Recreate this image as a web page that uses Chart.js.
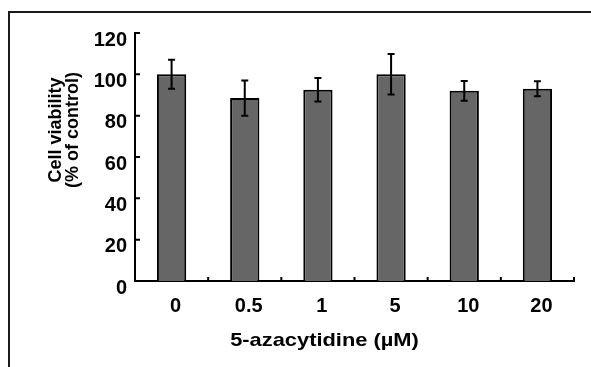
<!DOCTYPE html>
<html>
<head>
<meta charset="utf-8">
<script src="https://cdn.jsdelivr.net/npm/chart.js@4.4.1/dist/chart.umd.min.js"></script>
<style>
  html, body { margin: 0; padding: 0; background: #fff; }
  #wrap { position: relative; width: 591px; height: 367px; overflow: hidden; }
  #frame { position: absolute; left: 8px; top: 11px; width: 600px; height: 400px;
           border-top: 2px solid #1a1a1a; border-left: 2px solid #1a1a1a; }
  canvas { position: absolute; left: 0; top: 0; }
</style>
</head>
<body>
<div id="wrap">
  <div id="frame"></div>
  <canvas id="chartViabilidad" width="591" height="367"></canvas>
</div>
<script>
const doses = ['0', '0.5', '1', '5', '10', '20'];
const viability = [100, 88.5, 92.5, 100, 92, 93];
const errors = [7, 8.5, 5.7, 9.8, 4.8, 3.6];
const yTicks = [0, 20, 40, 60, 80, 100, 120];

const xTitle = '5-azacytidine (\u00b5M)';
const yTitle = ['Cell viability', '(% of control)'];

// error bars, inward ticks and axis titles
const extras = {
    id: 'extras',
    afterDatasetsDraw(chart) {
        const ctx = chart.ctx;
        const y = chart.scales.y;
        const meta = chart.getDatasetMeta(0);
        ctx.save();
        ctx.strokeStyle = '#000';
        ctx.lineWidth = 2;
        meta.data.forEach((bar, i) => {
            const top = y.getPixelForValue(viability[i] + errors[i]);
            const bot = y.getPixelForValue(viability[i] - errors[i]);
            ctx.beginPath();
            ctx.moveTo(bar.x, top);
            ctx.lineTo(bar.x, bot);
            ctx.moveTo(bar.x - 3.5, top);
            ctx.lineTo(bar.x + 3.5, top);
            ctx.moveTo(bar.x - 3.5, bot);
            ctx.lineTo(bar.x + 3.5, bot);
            ctx.stroke();
        });
        ctx.restore();
    },
    afterDraw(chart) {
        const ctx = chart.ctx;
        const {x, y} = chart.scales;
        const area = chart.chartArea;
        ctx.save();
        ctx.strokeStyle = '#000';
        ctx.lineWidth = 2;
        ctx.beginPath();
        yTicks.forEach(v => {
            const py = y.getPixelForValue(v);
            ctx.moveTo(area.left, py);
            ctx.lineTo(area.left + 5, py);
        });
        for (let i = 1; i <= doses.length; i++) {
            const px = x.getPixelForValue(i - 0.5);
            ctx.moveTo(px, area.bottom);
            ctx.lineTo(px, area.bottom - 4);
        }
        ctx.stroke();

        ctx.fillStyle = '#000';
        ctx.textAlign = 'center';
        ctx.textBaseline = 'middle';
        // x title, a bit wide like the original
        ctx.save();
        ctx.font = 'bold 19px "Liberation Sans", Arial, sans-serif';
        ctx.translate((area.left + area.right) / 2 - 30, area.bottom + 60);
        ctx.scale(1.15, 1);
        ctx.fillText(xTitle, 0, 0);
        ctx.restore();
        // y title
        ctx.save();
        ctx.font = 'bold 18px "Liberation Sans", Arial, sans-serif';
        ctx.translate(56, area.top + 97);
        ctx.rotate(-Math.PI / 2);
        ctx.fillText(yTitle[0], 0, 0);
        ctx.fillText(yTitle[1], 0, 17);
        ctx.restore();
        ctx.restore();
    }
};

const dataViabilidad = {
    labels: doses,
    datasets: [{
        data: viability,
        backgroundColor: '#666666',
        borderColor: '#000000',
        borderWidth: 2,
        borderSkipped: 'start',
        categoryPercentage: 1,
        barPercentage: 0.4
    }]
};

const optionsViabilidad = {
    responsive: false,
    animation: false,
    layout: { padding: { left: 0, right: 17, top: 33, bottom: 0 } },
    scales: {
        x: {
            offset: true,
            grid: { display: false, drawTicks: false },
            border: { color: '#000', width: 2 },
            ticks: { color: '#000', font: { family: '"Liberation Sans", Arial', size: 20, weight: 'bold' }, padding: 13, labelOffset: 4 },
            afterFit(scale) { scale.height = 86; }
        },
        y: {
            min: 0,
            max: 120,
            grid: { display: false, drawTicks: false },
            border: { color: '#000', width: 2 },
            ticks: { stepSize: 20, color: '#000', font: { family: '"Liberation Sans", Arial', size: 20, weight: 'bold' }, padding: 8, labelOffset: 7 },
            afterFit(scale) { scale.width = 135; }
        }
    },
    plugins: {
        legend: { display: false },
        tooltip: { enabled: false }
    }
};

new Chart(document.getElementById('chartViabilidad'), {
    type: 'bar',
    data: dataViabilidad,
    options: optionsViabilidad,
    plugins: [extras]
});
</script>
</body>
</html>
